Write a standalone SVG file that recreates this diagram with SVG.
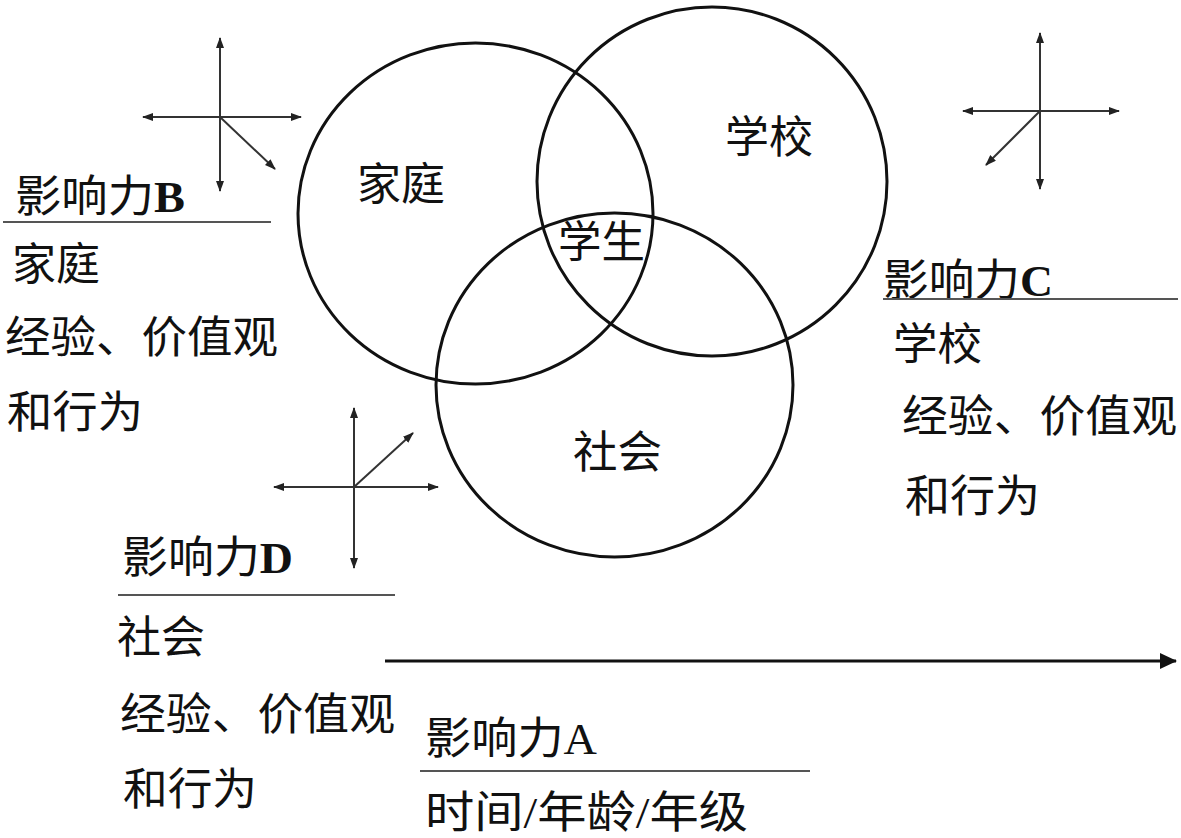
<svg xmlns="http://www.w3.org/2000/svg" width="1181" height="838" viewBox="0 0 1181 838">
<style>
text { font-family: "Liberation Serif", "Noto Sans CJK SC", serif; font-size: 44px; fill: #111; }
.circle { fill: none; stroke: #111; stroke-width: 3; }
.axis { stroke: #333; stroke-width: 2; fill: none; marker-end: url(#sm); }
.rule { stroke: #555; stroke-width: 2; }
.lat { font-weight: bold; }
</style>
<defs>
<marker id="sm" markerUnits="userSpaceOnUse" markerWidth="12" markerHeight="10" refX="10" refY="4" orient="auto">
<path d="M0,0 L11,4 L0,8 Z" fill="#222"/>
</marker>
<marker id="big" markerUnits="userSpaceOnUse" markerWidth="18" markerHeight="18" refX="16" refY="8" orient="auto">
<path d="M0,0 L17,8 L0,16 Z" fill="#111"/>
</marker>
</defs>

<g id="circles">
<g id="family"><ellipse class="circle" cx="475.5" cy="213.5" rx="177.5" ry="170.5"/><text x="357" y="200" textLength="88" lengthAdjust="spacingAndGlyphs">家庭</text></g>
<g id="school"><ellipse class="circle" cx="712" cy="181.5" rx="175" ry="174.5"/><text x="725" y="153" textLength="88" lengthAdjust="spacingAndGlyphs">学校</text></g>
<g id="society"><ellipse class="circle" cx="614.5" cy="385" rx="178.5" ry="172"/><text x="573" y="468" textLength="89" lengthAdjust="spacingAndGlyphs">社会</text></g>
<g id="student"><text x="558" y="258" textLength="87" lengthAdjust="spacingAndGlyphs">学生</text></g>
</g>

<g id="connectors">
<g id="axesB">
<line class="axis" x1="220" y1="117" x2="220" y2="38"/>
<line class="axis" x1="220" y1="117" x2="220" y2="191"/>
<line class="axis" x1="220" y1="117" x2="143" y2="117"/>
<line class="axis" x1="220" y1="117" x2="301" y2="117"/>
<line class="axis" x1="220" y1="117" x2="275" y2="169"/>
</g>
<g id="axesC">
<line class="axis" x1="1040" y1="111" x2="1040" y2="33"/>
<line class="axis" x1="1040" y1="111" x2="1040" y2="189"/>
<line class="axis" x1="1040" y1="111" x2="963" y2="111"/>
<line class="axis" x1="1040" y1="111" x2="1119" y2="111"/>
<line class="axis" x1="1040" y1="111" x2="986" y2="165"/>
</g>
<g id="axesD">
<line class="axis" x1="354" y1="487" x2="354" y2="408"/>
<line class="axis" x1="354" y1="487" x2="354" y2="568"/>
<line class="axis" x1="354" y1="487" x2="274" y2="487"/>
<line class="axis" x1="354" y1="487" x2="438" y2="487"/>
<line class="axis" x1="354" y1="487" x2="413" y2="433"/>
</g>
<line id="timeline" x1="385" y1="661" x2="1176" y2="661" stroke="#111" stroke-width="3" marker-end="url(#big)"/>
</g>

<g id="labelB">
<text x="15" y="212" textLength="170" lengthAdjust="spacingAndGlyphs">影响力<tspan class="lat">B</tspan></text>
<line class="rule" x1="3" y1="222" x2="271" y2="222"/>
<text x="12" y="280" textLength="88" lengthAdjust="spacingAndGlyphs">家庭</text>
<text x="5" y="353" textLength="273" lengthAdjust="spacingAndGlyphs">经验、价值观</text>
<text x="7" y="428" textLength="136" lengthAdjust="spacingAndGlyphs">和行为</text>
</g>

<g id="labelC">
<text x="883" y="296" textLength="170" lengthAdjust="spacingAndGlyphs">影响力<tspan class="lat">C</tspan></text>
<line class="rule" x1="883" y1="299" x2="1178" y2="299"/>
<text x="893" y="360" textLength="89" lengthAdjust="spacingAndGlyphs">学校</text>
<text x="902" y="432" textLength="275" lengthAdjust="spacingAndGlyphs">经验、价值观</text>
<text x="905" y="512" textLength="135" lengthAdjust="spacingAndGlyphs">和行为</text>
</g>

<g id="labelD">
<text x="122" y="573" textLength="171" lengthAdjust="spacingAndGlyphs">影响力<tspan class="lat">D</tspan></text>
<line class="rule" x1="118" y1="595" x2="395" y2="595"/>
<text x="117" y="653" textLength="88" lengthAdjust="spacingAndGlyphs">社会</text>
<text x="120" y="730" textLength="275" lengthAdjust="spacingAndGlyphs">经验、价值观</text>
<text x="123" y="805" textLength="134" lengthAdjust="spacingAndGlyphs">和行为</text>
</g>

<g id="labelA">
<text x="425" y="754" textLength="172" lengthAdjust="spacingAndGlyphs">影响力A</text>
<line class="rule" x1="420" y1="771" x2="810" y2="771"/>
<text x="425" y="828" textLength="323" lengthAdjust="spacingAndGlyphs">时间/年龄/年级</text>
</g>
</svg>
